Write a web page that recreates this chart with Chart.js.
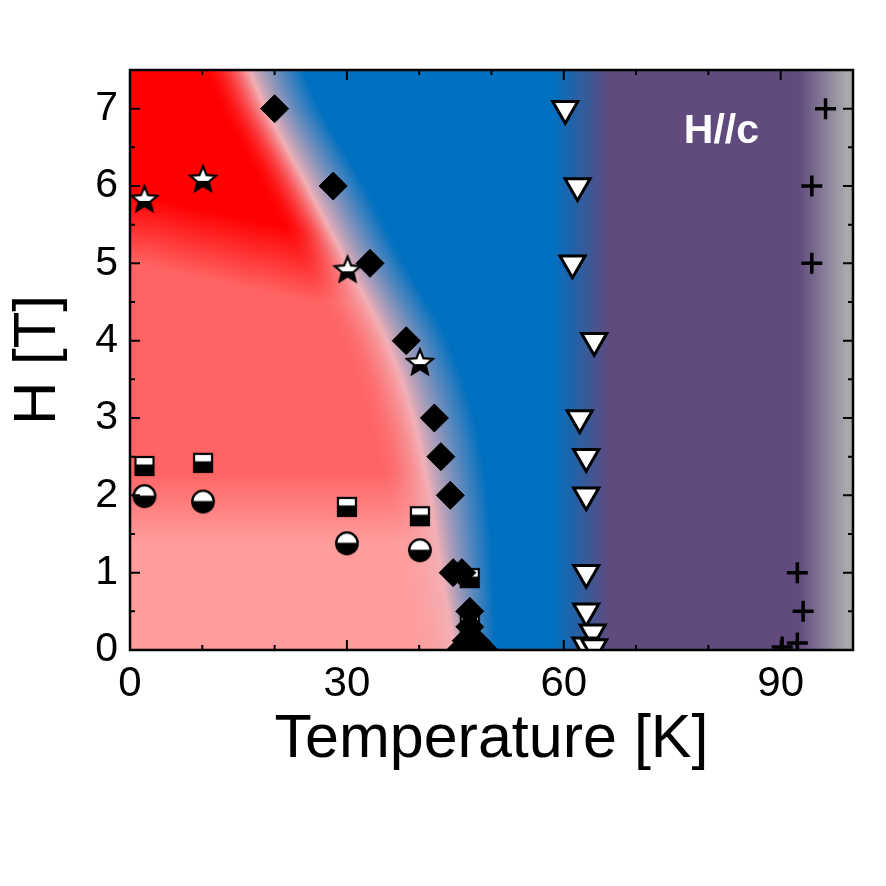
<!DOCTYPE html>
<html>
<head>
<meta charset="utf-8">
<script src="https://cdn.jsdelivr.net/npm/chart.js@4.4.0/dist/chart.umd.min.js"></script>
<style>
  html, body { margin: 0; padding: 0; background: #fff; }
  canvas { display: block; }
</style>
</head>
<body>
<canvas id="chart" width="886" height="886"></canvas>
<script>
// H-T phase diagram (H//c): scatter markers on top of a painted phase map

// --- transition points ---
const diamondT = [20, 28.1, 33.2, 38.2, 42.1, 43, 44.3, 44.7, 45.9, 47, 47, 46.5, 48, 45.7, 47.5, 49];
const diamondH = [7, 6, 5, 4, 3, 2.5, 2, 1, 1, 0.5, 0.3, 0.12, 0.1, 0, 0, 0];

const starT = [2, 10.1, 30.1, 40.1];
const starH = [5.82, 6.08, 4.91, 3.71];

const squareT = [2, 10.1, 30, 40.1, 47, 47];
const squareH = [2.38, 2.42, 1.85, 1.73, 0.93, 0.33];

const circleT = [2, 10.1, 30, 40.1, 47];
const circleH = [1.99, 1.92, 1.38, 1.29, 0.12];

const triangleT = [60.2, 61.9, 61.2, 64.2, 62.2, 63.1, 63.1, 63.1, 63.1, 64, 63, 64.2];
const triangleH = [7, 6, 5, 4, 3, 2.5, 2, 1, 0.5, 0.23, 0.06, 0.04];

const crossT = [96.2, 94.3, 94.3, 92.3, 93.1, 92.3, 90.2];
const crossH = [7, 6, 5, 1, 0.5, 0.09, 0.04];

// --- phase map: red/blue boundary (lightest line) and width of its blend ---
const boundaryH = [0, 1, 2, 3, 4, 5, 6, 7, 7.5];
const boundaryT = [45, 43.2, 41.5, 39.2, 35.5, 30, 24.5, 18.8, 16.5];
const boundarySpread = [5.5, 7, 8, 8.5, 8.5, 8, 8, 7.5, 7.5];
const bluePurpleT = [58.5, 66.5];
const purpleGreyT = [92.5, 99];

const xTicksMajor = [0, 30, 60, 90];

const RED = [255, 0, 0], SALMON = [255, 100, 100], PINK = [255, 156, 156];
const LIGHT = [242, 176, 182], BLUE = [0, 112, 192], PURPLE = [97, 74, 125], GREY = [168, 168, 173];

const toXY = (xs, ys) => xs.map((x, i) => ({ x, y: ys[i] }));
const clamp = (v, a, b) => Math.max(a, Math.min(b, v));
const mix = (a, b, t) => [a[0] + (b[0] - a[0]) * t, a[1] + (b[1] - a[1]) * t, a[2] + (b[2] - a[2]) * t];

// Catmull-Rom through the boundary points so the arc has no corners
function smoothInterp(v, xs, ys) {
  const n = xs.length;
  if (v <= xs[0]) return ys[0];
  if (v >= xs[n - 1]) return ys[n - 1];
  let i = 1;
  while (v > xs[i]) i++;
  const x0 = xs[i - 1], x1 = xs[i], h = x1 - x0, t = (v - x0) / h;
  const slope = k => {
    if (k === 0) return (ys[1] - ys[0]) / (xs[1] - xs[0]);
    if (k === n - 1) return (ys[n - 1] - ys[n - 2]) / (xs[n - 1] - xs[n - 2]);
    return (ys[k + 1] - ys[k - 1]) / (xs[k + 1] - xs[k - 1]);
  };
  const m0 = slope(i - 1) * h, m1 = slope(i) * h;
  const t2 = t * t, t3 = t2 * t;
  return (2 * t3 - 3 * t2 + 1) * ys[i - 1] + (t3 - 2 * t2 + t) * m0 + (-2 * t3 + 3 * t2) * ys[i] + (t3 - t2) * m1;
}

// red side shade: deep red on top, salmon in the middle, pink at low field
function redSide(T, H) {
  const mid = 5.45 - 0.02 * clamp(T, 0, 25);
  let c = mix(SALMON, RED, clamp((H - (mid - 0.45)) / 0.9, 0, 1));
  if (H < 2.3) c = mix(PINK, c, clamp((H - 1.4) / 0.9, 0, 1));
  return c;
}

function mapColor(T, H) {
  let c = BLUE;
  if (T > bluePurpleT[0]) c = mix(BLUE, PURPLE, clamp((T - bluePurpleT[0]) / (bluePurpleT[1] - bluePurpleT[0]), 0, 1));
  if (T > purpleGreyT[0]) c = mix(PURPLE, GREY, clamp((T - purpleGreyT[0]) / (purpleGreyT[1] - purpleGreyT[0]), 0, 1));
  const tb = smoothInterp(H, boundaryH, boundaryT);
  const w = smoothInterp(H, boundaryH, boundarySpread);
  const d = T - tb;
  if (d >= 0 && d < w) {
    c = mix(LIGHT, c, Math.pow(d / w, 0.85));
  } else if (d < 0) {
    const t = clamp(1 + d / 6.5, 0, 1);
    c = mix(redSide(T, H), LIGHT, Math.pow(t, 1.8));
  }
  return c;
}

const phaseMap = {
  id: 'phaseMap',
  beforeDraw(chart) {
    const { ctx, chartArea: a, scales: { x, y } } = chart;
    const left = Math.round(a.left), top = Math.round(a.top);
    const w = Math.round(a.right) - left, h = Math.round(a.bottom) - top;
    const img = ctx.createImageData(w, h);
    for (let j = 0; j < h; j++) {
      const H = y.getValueForPixel(top + j + 0.5);
      for (let i = 0; i < w; i++) {
        const T = x.getValueForPixel(left + i + 0.5);
        const c = mapColor(T, H);
        const k = (j * w + i) * 4;
        img.data[k] = c[0]; img.data[k + 1] = c[1]; img.data[k + 2] = c[2]; img.data[k + 3] = 255;
      }
    }
    ctx.putImageData(img, left, top);
  }
};

// inward ticks on all four sides + frame + the H//c label
const frameTicks = {
  id: 'frameTicks',
  afterDatasetsDraw(chart) {
    const { ctx, chartArea: a, scales: { x, y } } = chart;
    ctx.save();
    ctx.strokeStyle = '#000';
    ctx.lineWidth = 2;
    ctx.beginPath();
    x.ticks.forEach(t => {
      const px = x.getPixelForValue(t.value);
      const len = xTicksMajor.includes(t.value) ? 10 : 5;
      ctx.moveTo(px, a.bottom); ctx.lineTo(px, a.bottom - len);
      ctx.moveTo(px, a.top); ctx.lineTo(px, a.top + len);
    });
    y.ticks.forEach(t => {
      const py = y.getPixelForValue(t.value);
      const len = Number.isInteger(t.value) ? 10 : 5;
      ctx.moveTo(a.left, py); ctx.lineTo(a.left + len, py);
      ctx.moveTo(a.right, py); ctx.lineTo(a.right - len, py);
    });
    ctx.stroke();
    ctx.lineWidth = 2.5;
    ctx.strokeRect(a.left, a.top, a.right - a.left, a.bottom - a.top);

    ctx.fillStyle = '#fff';
    ctx.font = 'bold 41px "Liberation Sans", Arial, sans-serif';
    ctx.textAlign = 'center';
    ctx.textBaseline = 'alphabetic';
    ctx.fillText('H//c', x.getPixelForValue(81.8), y.getPixelForValue(6.55));
    ctx.restore();
  }
};

function markerCanvas(size, draw) {
  const c = document.createElement('canvas');
  c.width = c.height = size;
  draw(c.getContext('2d'), size / 2, size);
  return c;
}

const starImg = markerCanvas(34, (g, c, s) => {
  const R = 13.5, r = 6;
  const path = () => {
    g.beginPath();
    for (let k = 0; k < 10; k++) {
      const ang = -Math.PI / 2 + k * Math.PI / 5;
      const rad = k % 2 ? r : R;
      g.lineTo(c + rad * Math.cos(ang), c + rad * Math.sin(ang));
    }
    g.closePath();
  };
  path(); g.fillStyle = '#fff'; g.fill();
  g.save(); g.beginPath(); g.rect(0, c + 1, s, s); g.clip();
  path(); g.fillStyle = '#000'; g.fill(); g.restore();
  path(); g.lineWidth = 2.2; g.strokeStyle = '#000'; g.stroke();
});

const squareImg = markerCanvas(24, (g, c) => {
  const half = 9;
  g.fillStyle = '#fff'; g.fillRect(c - half, c - half, 2 * half, 2 * half);
  g.fillStyle = '#000'; g.fillRect(c - half, c - 1.5, 2 * half, half + 1.5);
  g.lineWidth = 2.2; g.strokeStyle = '#000'; g.strokeRect(c - half, c - half, 2 * half, 2 * half);
});

const circleImg = markerCanvas(28, (g, c, s) => {
  const r = 10.8;
  g.beginPath(); g.arc(c, c, r, 0, Math.PI * 2); g.fillStyle = '#fff'; g.fill();
  g.save(); g.beginPath(); g.rect(0, c - 0.5, s, s); g.clip();
  g.beginPath(); g.arc(c, c, r, 0, Math.PI * 2); g.fillStyle = '#000'; g.fill(); g.restore();
  g.beginPath(); g.arc(c, c, r, 0, Math.PI * 2); g.lineWidth = 2.2; g.strokeStyle = '#000'; g.stroke();
});

const FONT = '"Liberation Sans", Arial, sans-serif';

new Chart(document.getElementById('chart'), {
  type: 'scatter',
  data: {
    datasets: [
      { label: 'diamond', data: toXY(diamondT, diamondH), pointStyle: 'rectRot', pointRadius: 14,
        pointBackgroundColor: '#000', pointBorderColor: '#000', pointBorderWidth: 1, clip: 0 },
      { label: 'star', data: toXY(starT, starH), pointStyle: starImg, pointRadius: 14, clip: 0 },
      { label: 'square', data: toXY(squareT, squareH), pointStyle: squareImg, pointRadius: 10, clip: 0 },
      { label: 'circle', data: toXY(circleT, circleH), pointStyle: circleImg, pointRadius: 11, clip: 0 },
      { label: 'triangle', data: toXY(triangleT, triangleH), pointStyle: 'triangle', pointRotation: 180,
        pointRadius: 14.5, pointBackgroundColor: '#fff', pointBorderColor: '#000', pointBorderWidth: 3, clip: 0 },
      { label: 'cross', data: toXY(crossT, crossH), pointStyle: 'cross', pointRadius: 10.5,
        pointBorderColor: '#000', pointBorderWidth: 3.5, clip: 0 }
    ]
  },
  options: {
    responsive: false,
    animation: false,
    devicePixelRatio: 1,
    layout: { padding: { top: 70, right: 33, left: 0, bottom: 0 } },
    plugins: { legend: { display: false }, tooltip: { enabled: false } },
    scales: {
      x: {
        min: 0, max: 100,
        afterFit: s => { s.height = 236; },
        grid: { display: false, drawTicks: false },
        border: { display: false },
        ticks: {
          stepSize: 10, autoSkip: false, maxRotation: 0, padding: 9, color: '#000',
          font: { family: FONT, size: 42 },
          callback: v => (xTicksMajor.includes(v) ? String(v) : '')
        },
        title: {
          display: true, text: 'Temperature [K]', color: '#000',
          font: { family: FONT, size: 61, lineHeight: 1 },
          padding: { top: 0, bottom: 115 }
        }
      },
      y: {
        min: 0, max: 7.5,
        afterFit: s => { s.width = 130; },
        grid: { display: false, drawTicks: false },
        border: { display: false },
        ticks: {
          stepSize: 0.5, autoSkip: false, padding: 12, color: '#000',
          font: { family: FONT, size: 41 },
          callback: v => (Number.isInteger(v) ? String(v) : '')
        },
        title: {
          display: true, text: 'H [T]', color: '#000',
          font: { family: FONT, size: 60, lineHeight: 1 },
          padding: { top: 8, bottom: 0 }
        }
      }
    }
  },
  plugins: [phaseMap, frameTicks]
});
</script>
</body>
</html>
